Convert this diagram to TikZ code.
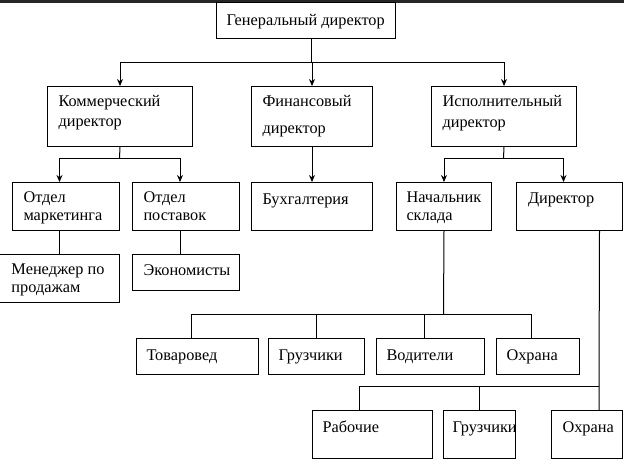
\documentclass[tikz,border=0pt]{standalone}
\usepackage{fontspec}
\setmainfont{Liberation Serif}
\usetikzlibrary{arrows.meta}

\begin{document}
\begin{tikzpicture}[x=1pt, y=-1pt, line width=1pt, >={Stealth[length=7pt,width=6pt]}]

  \tikzstyle{box}=[draw, anchor=north west, inner sep=0pt]
  \tikzstyle{txt}=[anchor=base west, align=left, inner sep=0pt, font=\fontsize{16.3}{18}\selectfont]

  \useasboundingbox (0,0) rectangle (624,459);
  \fill[black!85] (0,0) rectangle (624,2.5);

  % Draw the boxes, top level first
  \node[box, minimum width=179, minimum height=36] (gen) at (216,2) {};
  \node[box, minimum width=145, minimum height=60] (komm) at (47,86) {};
  \node[box, minimum width=121, minimum height=60] (fin) at (251,86) {};
  \node[box, minimum width=145, minimum height=60] (isp) at (431,86) {};

  \node[box, minimum width=107, minimum height=48] (mark) at (12,182) {};
  \node[box, minimum width=107, minimum height=48] (post) at (132,182) {};
  \node[box, minimum width=121, minimum height=48] (buh) at (251,182) {};
  \node[box, minimum width=95, minimum height=48] (nach) at (396,182) {};
  \node[box, minimum width=106, minimum height=48] (dir) at (516,182) {};

  \node[box, minimum width=120, minimum height=48] (men) at (-1,254) {};
  \node[box, minimum width=107, minimum height=36] (econ) at (132,254) {};

  \node[box, minimum width=122, minimum height=36] (tov) at (136,338) {};
  \node[box, minimum width=96, minimum height=36] (gruz-a) at (268,338) {};
  \node[box, minimum width=108, minimum height=36] (vod) at (376,338) {};
  \node[box, minimum width=83, minimum height=36] (ohr-a) at (496,338) {};

  \node[box, minimum width=120, minimum height=48] (rab) at (312,410) {};
  \node[box, minimum width=72, minimum height=48] (gruz-b) at (443,410) {};
  \node[box, minimum width=71, minimum height=48] (ohr-b) at (551,410) {};

  % Texts, top left of each box (two-line texts sit on their last line)
  \node[txt] (gen-t) at ([xshift=10pt,yshift=-23pt]gen.north west) {Генеральный директор};
  \node[txt, font=\fontsize{16.3}{20.7}\selectfont] (komm-t) at ([xshift=11pt,yshift=-40.7pt]komm.north west) {Коммерческий\\директор};
  \node[txt, font=\fontsize{16.3}{27}\selectfont] (fin-t) at ([xshift=11pt,yshift=-47pt]fin.north west) {Финансовый\\директор};
  \node[txt, font=\fontsize{16.3}{21}\selectfont] (isp-t) at ([xshift=11pt,yshift=-41pt]isp.north west) {Исполнительный\\директор};

  \node[txt] (mark-t) at ([xshift=11pt,yshift=-38.5pt]mark.north west) {Отдел\\маркетинга};
  \node[txt] (post-t) at ([xshift=11pt,yshift=-38.5pt]post.north west) {Отдел\\поставок};
  \node[txt] (buh-t) at ([xshift=11pt,yshift=-22pt]buh.north west) {Бухгалтерия};
  \node[txt] (nach-t) at ([xshift=10pt,yshift=-38.5pt]nach.north west) {Начальник\\склада};
  \node[txt] (dir-t) at ([xshift=11.5pt,yshift=-21pt]dir.north west) {Директор};

  \node[txt] (men-t) at ([xshift=12pt,yshift=-38.5pt]men.north west) {Менеджер по\\продажам};
  \node[txt] (econ-t) at ([xshift=11pt,yshift=-21.5pt]econ.north west) {Экономисты};

  \node[txt] (tov-t) at ([xshift=10pt,yshift=-22.5pt]tov.north west) {Товаровед};
  \node[txt] (gruz-a-t) at ([xshift=10pt,yshift=-22.5pt]gruz-a.north west) {Грузчики};
  \node[txt] (vod-t) at ([xshift=10pt,yshift=-22.5pt]vod.north west) {Водители};
  \node[txt] (ohr-a-t) at ([xshift=10pt,yshift=-22.5pt]ohr-a.north west) {Охрана};

  \node[txt] (rab-t) at ([xshift=10pt,yshift=-22.5pt]rab.north west) {Рабочие};
  \node[txt] (gruz-b-t) at ([xshift=9pt,yshift=-22.5pt]gruz-b.north west) {Грузчики};
  \node[txt] (ohr-b-t) at ([xshift=11pt,yshift=-22.5pt]ohr-b.north west) {Охрана};

  % Connect the general director with the three directors
  \coordinate (bus-gen) at (311,62);
  \draw (bus-gen |- gen.south) -- (bus-gen);
  \foreach \dest in {komm,fin,isp}
      \draw[->] (bus-gen) -| (\dest.north);

  % Commercial branch
  \coordinate (bus-komm) at (119.5,158);
  \draw (komm.south) -- (bus-komm);
  \draw[->] (bus-komm) -| ([xshift=-6.5pt]mark.north);
  \draw[->] (bus-komm) -| ([xshift=-6pt]post.north);
  \draw (men.north |- mark.south) -- (men.north);
  \draw ([xshift=-6pt]post.south) -- ([xshift=-6pt]econ.north);

  % Finance branch
  \draw[->] (fin) -- (buh);

  % Executive branch
  \coordinate (bus-isp) at (503.5,158);
  \draw (isp.south) -- (bus-isp);
  \draw[->] (bus-isp) -| (nach.north);
  \draw[->] (bus-isp) -| ([xshift=-6pt]dir.north);

  % Staff under the warehouse head
  \coordinate (bus-nach) at (443.5,314);
  \draw (nach.south) -- (bus-nach);
  \foreach \dest/\s in {tov/-6, gruz-a/0, vod/-6, ohr-a/-6.5}
      \draw (bus-nach) -| ([xshift=\s pt]\dest.north);

  % Staff under the director
  \coordinate (bus-dir) at (599,386.5);
  \draw ([xshift=30pt]dir.south) -- (bus-dir) -- (bus-dir |- ohr-b.north);
  \foreach \dest/\s in {rab/-13, gruz-b/0}
      \draw (bus-dir) -| ([xshift=\s pt]\dest.north);

\end{tikzpicture}
\end{document}
